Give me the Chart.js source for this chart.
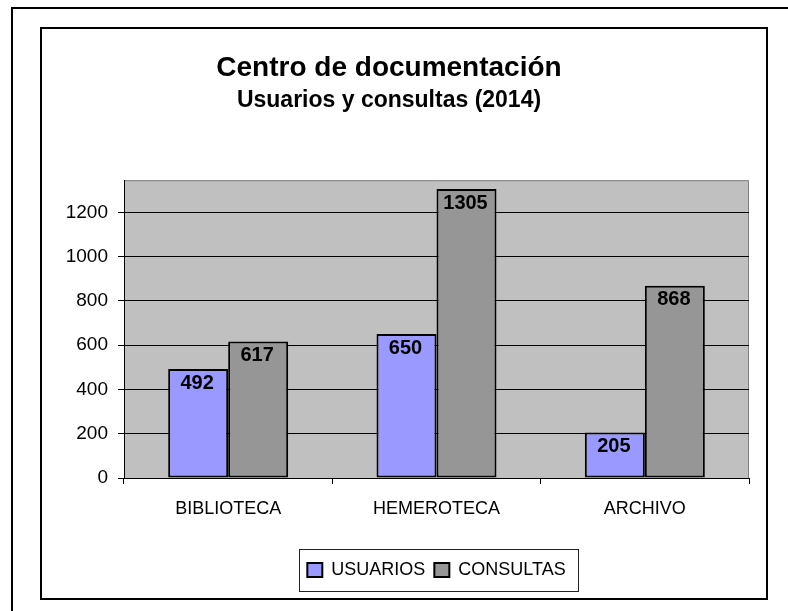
<!DOCTYPE html>
<html>
<head>
<meta charset="utf-8">
<title>Centro de documentación</title>
<script src="https://cdn.jsdelivr.net/npm/chart.js@4.4.0/dist/chart.umd.min.js"></script>
<style>
    html, body { margin: 0; padding: 0; background: #fff; overflow: hidden; }
    #wrap { position: relative; width: 788px; height: 611px; }
    #outer { position: absolute; left: 11px; top: 7px; width: 800px; height: 700px; border: 2px solid #000; }
    #inner { position: absolute; left: 40px; top: 27px; width: 724px; height: 569px; border: 2px solid #000; }
    #chart { position: absolute; left: 0; top: 0; }
</style>
</head>
<body>
<div id="wrap">
    <div id="outer"></div>
    <div id="inner"></div>
    <canvas id="chart" width="788" height="611"></canvas>
</div>
<script>
// ===== DATA =====
const categories = ['BIBLIOTECA', 'HEMEROTECA', 'ARCHIVO'];
const usuarios = [492, 650, 205];
const consultas = [617, 1305, 868];
const yTicks = [0, 200, 400, 600, 800, 1000, 1200];
const yMax = 1345;

const FONT = 'Liberation Sans, Arial, sans-serif';

// gray plot area like the old Excel charts
const plotBackground = {
    id: 'plotBackground',
    beforeDraw(chart) {
        const { ctx, chartArea: a } = chart;
        ctx.save();
        ctx.fillStyle = '#C0C0C0';
        ctx.fillRect(a.left, a.top, a.right - a.left, a.bottom - a.top);
        ctx.strokeStyle = '#808080';
        ctx.lineWidth = 1;
        ctx.beginPath();
        ctx.moveTo(a.left, a.top + 0.5);
        ctx.lineTo(a.right - 0.5, a.top + 0.5);
        ctx.lineTo(a.right - 0.5, a.bottom);
        ctx.stroke();
        ctx.restore();
    }
};

// values written inside the top of each bar
const barValues = {
    id: 'barValues',
    afterDatasetsDraw(chart) {
        const { ctx } = chart;
        ctx.save();
        ctx.font = 'bold 20px ' + FONT;
        ctx.fillStyle = '#000';
        ctx.textAlign = 'center';
        ctx.textBaseline = 'middle';
        chart.data.datasets.forEach((ds, i) => {
            chart.getDatasetMeta(i).data.forEach((bar, j) => {
                ctx.fillText(String(ds.data[j]), bar.x - 1, bar.y + 14);
            });
        });
        ctx.restore();
    }
};

// thin frame around the legend
const legendFrame = {
    id: 'legendFrame',
    afterDraw(chart) {
        const boxes = chart.legend && chart.legend.legendHitBoxes;
        if (!boxes || !boxes.length) return;
        const first = boxes[0];
        const last = boxes[boxes.length - 1];
        const x1 = Math.round(first.left - 8) + 0.5;
        const x2 = Math.round(last.left + last.width + 12) + 0.5;
        const y1 = Math.round(first.top - 12) + 0.5;
        const y2 = y1 + 42;
        const ctx = chart.ctx;
        ctx.save();
        ctx.strokeStyle = '#222';
        ctx.lineWidth = 1;
        ctx.strokeRect(x1, y1, x2 - x1, y2 - y1);
        ctx.restore();
    }
};

new Chart(document.getElementById('chart'), {
    type: 'bar',
    data: {
        labels: categories,
        datasets: [{
            label: 'USUARIOS',
            data: usuarios,
            backgroundColor: '#9999FF',
            borderColor: '#000',
            borderWidth: 2,
            borderSkipped: false
        }, {
            label: 'CONSULTAS',
            data: consultas,
            backgroundColor: '#969696',
            borderColor: '#000',
            borderWidth: 2,
            borderSkipped: false
        }]
    },
    options: {
        responsive: false,
        animation: false,
        devicePixelRatio: 1,
        categoryPercentage: 0.576,
        barPercentage: 1,
        layout: {
            padding: { left: 29, right: 39, top: 0, bottom: 22 }
        },
        plugins: {
            title: {
                display: true,
                text: 'Centro de documentación',
                color: '#000',
                font: { family: FONT, size: 28, weight: 'bold', lineHeight: 1.2 },
                padding: { top: 51, bottom: 0 }
            },
            subtitle: {
                display: true,
                text: 'Usuarios y consultas (2014)',
                color: '#000',
                font: { family: FONT, size: 23, weight: 'bold', lineHeight: 1.2 },
                padding: { top: 2, bottom: 66 }
            },
            legend: {
                position: 'bottom',
                fullSize: false,
                labels: {
                    color: '#000',
                    font: { family: FONT, size: 18 },
                    boxWidth: 15,
                    boxHeight: 14,
                    padding: 9
                }
            },
            tooltip: { enabled: false }
        },
        scales: {
            x: {
                grid: {
                    display: true,
                    drawOnChartArea: false,
                    color: '#000',
                    tickLength: 6,
                    offset: true
                },
                border: { display: true, color: '#000', width: 1 },
                ticks: {
                    color: '#000',
                    font: { family: FONT, size: 18 },
                    padding: 14,
                    maxRotation: 0
                },
                afterFit(scale) {
                    scale.height = 74;
                }
            },
            y: {
                min: 0,
                max: yMax,
                grid: {
                    color: '#000',
                    lineWidth: 1,
                    tickLength: 6
                },
                border: { display: true, color: '#000', width: 1 },
                ticks: {
                    color: '#000',
                    font: { family: FONT, size: 19 },
                    padding: 10,
                    callback: value => String(value)
                },
                afterBuildTicks(scale) {
                    scale.ticks = yTicks.map(v => ({ value: v }));
                },
                afterFit(scale) {
                    scale.width = 95;
                }
            }
        }
    },
    plugins: [plotBackground, barValues, legendFrame]
});
</script>
</body>
</html>
